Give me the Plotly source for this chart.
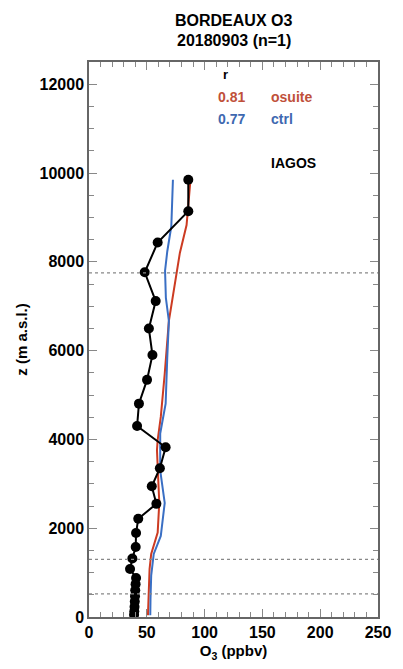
import plotly.graph_objects as go

# IAGOS observed profile (O3 ppbv, altitude m)
obs_o3 = [85.9, 85.9, 59.4, 48.2, 57.7, 51.8, 54.9, 50.2, 43.2, 41.6, 66.3, 61.3, 54.3, 58.3,
          42.6, 40.7, 40.4, 37.5, 35.5, 40.7, 40.3, 40.0, 39.8, 39.6, 39.4, 39.2, 39.0]
obs_z = [9848, 9140, 8433, 7763, 7115, 6496, 5900, 5341, 4805, 4300, 3822, 3352, 2943, 2548,
         2212, 1890, 1575, 1318, 1080, 880, 740, 600, 470, 350, 230, 130, 50]

# model osuite
osuite_o3 = [87.8, 84.4, 78.6, 73.0, 69.1, 65.5, 62.1, 59.4, 58.8, 59.4, 60.8, 59.4, 53.8, 52.4, 51.5, 51.0]
osuite_z = [9848, 8827, 8200, 7350, 6668, 5475, 4507, 3987, 3763, 3390, 2570, 1900, 1420, 1082, 500, 40]

# model ctrl
ctrl_o3 = [72.6, 71.2, 67.7, 65.8, 66.5, 69.1, 67.7, 66.3, 61.6, 61.2, 61.6, 65.5, 62.1, 56.0, 53.8, 53.2, 53.0]
ctrl_z = [9848, 8800, 8232, 7800, 7188, 6668, 5848, 4805, 4134, 3613, 3300, 2570, 1826, 1420, 932, 400, 40]

# reference levels (dotted lines)
levels = [7750, 1300, 520]

# correlation legend
r_values = ["0.81", "0.77"]
r_names = ["osuite", "ctrl"]

RED = "#cc3b22"
BLUE = "#3a6fc4"
RED_T = "#c0503a"
BLUE_T = "#3e68b0"
FONT = "Liberation Sans"

fig = go.Figure()
fig.add_trace(go.Scatter(x=osuite_o3, y=osuite_z, mode="lines",
                         line=dict(color=RED, width=2), showlegend=False))
fig.add_trace(go.Scatter(x=ctrl_o3, y=ctrl_z, mode="lines",
                         line=dict(color=BLUE, width=2), showlegend=False))
fig.add_trace(go.Scatter(x=obs_o3, y=obs_z, mode="lines+markers",
                         line=dict(color="black", width=2),
                         marker=dict(color="black", size=10), showlegend=False))

for lv in levels:
    fig.add_shape(type="line", xref="paper", x0=0, x1=1, yref="y", y0=lv, y1=lv,
                  line=dict(color="#888888", width=1.2, dash="dot"))

# legend texts
fig.add_annotation(x=118, y=12217, text="r", showarrow=False, xanchor="center",
                   font=dict(family=FONT, size=13, color="black", weight="bold"))
legend_y = [11704, 11212]
cols = [RED_T, BLUE_T]
for rv, nm, yy, c in zip(r_values, r_names, legend_y, cols):
    fig.add_annotation(x=123.3, y=yy, text=rv, showarrow=False, xanchor="center",
                       font=dict(family=FONT, size=14, color=c, weight="bold"))
    fig.add_annotation(x=155.5, y=yy, text=nm, showarrow=False, xanchor="left",
                       font=dict(family=FONT, size=14, color=c, weight="bold"))
fig.add_annotation(x=155.5, y=10228, text="IAGOS", showarrow=False, xanchor="left",
                   font=dict(family=FONT, size=14, color="black", weight="bold"))

# title
fig.add_annotation(xref="paper", yref="paper", x=0.5, y=1.075, text="BORDEAUX O3",
                   showarrow=False, yanchor="middle",
                   font=dict(family=FONT, size=16, color="black", weight="bold"))
fig.add_annotation(xref="paper", yref="paper", x=0.5, y=1.039, text="20180903 (n=1)",
                   showarrow=False, yanchor="middle",
                   font=dict(family=FONT, size=16, color="black", weight="bold"))

axis_common = dict(showgrid=False, zeroline=False, showline=True, linecolor="#666666",
                   linewidth=1.5, mirror="allticks", ticks="inside", tickcolor="#888888",
                   tickwidth=1.2, tickformat="d",
                   tickfont=dict(family=FONT, size=16, color="black", weight="bold"))

fig.update_xaxes(range=[0, 250], tickvals=[0, 50, 100, 150, 200, 250], ticklen=8,
                 minor=dict(dtick=10, ticks="inside", ticklen=5, tickcolor="#888888", tickwidth=1.2),
                 title=dict(text="O<sub>3</sub> (ppbv)", standoff=6,
                            font=dict(family=FONT, size=15, color="black", weight="bold")),
                 **axis_common)
fig.update_yaxes(range=[0, 12500], tickvals=[0, 2000, 4000, 6000, 8000, 10000, 12000], ticklen=8,
                 minor=dict(dtick=500, ticks="inside", ticklen=5, tickcolor="#888888", tickwidth=1.2),
                 title=dict(text="z (m a.s.l.)", standoff=8,
                            font=dict(family=FONT, size=15, color="black", weight="bold")),
                 **axis_common)

fig.update_layout(width=403, height=669, margin=dict(l=89, r=15, t=62, b=47),
                  plot_bgcolor="white", paper_bgcolor="white",
                  font=dict(family=FONT, color="black"))

fig.write_html("out.html")
